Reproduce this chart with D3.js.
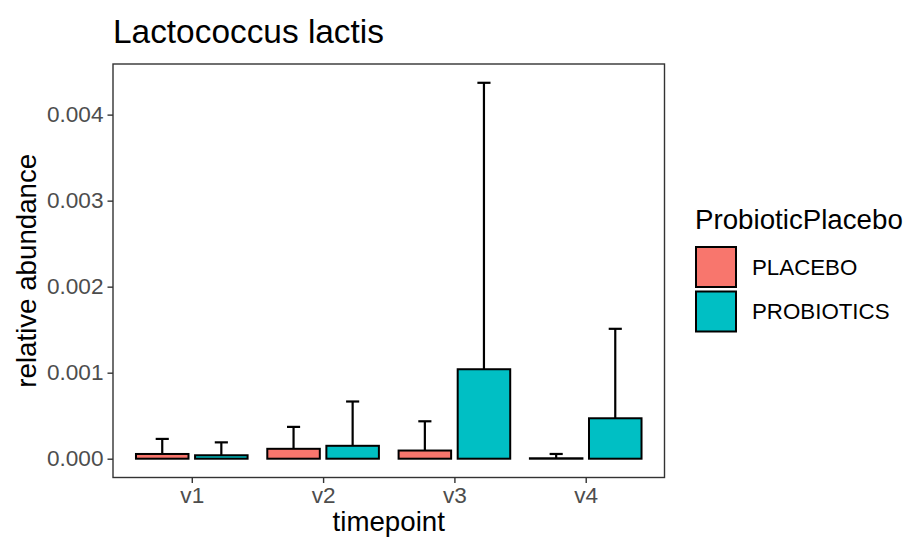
<!DOCTYPE html>
<html>
<head>
<meta charset="utf-8">
<script src="https://cdn.jsdelivr.net/npm/d3@7"></script>
<style>
  html, body { margin: 0; padding: 0; background: #ffffff; }
  svg { display: block; font-family: "Liberation Sans", Arial, sans-serif; }
</style>
</head>
<body>
<svg id="chart" width="907" height="543"></svg>
<script>
// Mean relative abundance of Lactococcus lactis per timepoint and arm,
// with the upper end of each error bar.
const timepoints = ["v1", "v2", "v3", "v4"];
const groups = ["PLACEBO", "PROBIOTICS"];
const groupColors = ["#F8766D", "#00BFC4"];
const placeboMean = [0.000055, 0.000115, 0.000095, 0.000005];
const placeboUpper = [0.00023, 0.00037, 0.000435, 0.000055];
const probioticMean = [0.00004, 0.00015, 0.00104, 0.00047];
const probioticUpper = [0.00019, 0.000665, 0.00437, 0.00151];
const yTicks = [0, 0.001, 0.002, 0.003, 0.004];

const means = [placeboMean, probioticMean];
const uppers = [placeboUpper, probioticUpper];

const rows = [];
timepoints.forEach((t, i) => {
  groups.forEach((g, j) => {
    rows.push({ t, g, j, mean: means[j][i], upper: uppers[j][i] });
  });
});

const svg = d3.select("#chart");
const panel = { left: 113, right: 664.5, top: 64, bottom: 477.5 };

const x = d3.scalePoint().domain(timepoints)
  .range([panel.left, panel.right]).padding(0.6);
const step = x.step();
const dodge = 0.9, barW = 0.4 * step;
const offset = j => (j === 0 ? -1 : 1) * dodge / 4 * step;

const maxY = d3.max(rows, d => d.upper);
const y = d3.scaleLinear()
  .domain([-0.05 * maxY, 1.05 * maxY])
  .range([panel.bottom, panel.top]);

const inkAxis = "#333333";
const tickText = "#4D4D4D";
const titleSize = 27.7, tickSize = 22.6;

// title
svg.append("text")
  .attr("x", panel.left).attr("y", 43)
  .attr("font-size", 33.4).attr("fill", "#000")
  .text("Lactococcus lactis");

// error bars (drawn first, bars sit over their lower end)
const capW = 0.1 * step;
const eb = svg.append("g").attr("stroke", "#000").attr("stroke-width", 2.2);
rows.forEach(d => {
  const cx = x(d.t) + offset(d.j);
  eb.append("line").attr("x1", cx).attr("x2", cx)
    .attr("y1", y(d.mean)).attr("y2", y(d.upper));
  eb.append("line").attr("x1", cx - capW / 2).attr("x2", cx + capW / 2)
    .attr("y1", y(d.upper)).attr("y2", y(d.upper));
});

// bars
svg.append("g").selectAll("rect").data(rows).join("rect")
  .attr("x", d => x(d.t) + offset(d.j) - barW / 2)
  .attr("width", barW)
  .attr("y", d => y(d.mean))
  .attr("height", d => y(0) - y(d.mean))
  .attr("fill", d => groupColors[d.j])
  .attr("stroke", "#000").attr("stroke-width", 2);

// panel border
svg.append("rect")
  .attr("x", panel.left).attr("y", panel.top)
  .attr("width", panel.right - panel.left)
  .attr("height", panel.bottom - panel.top)
  .attr("fill", "none").attr("stroke", inkAxis).attr("stroke-width", 1.4);

// y axis
const yAxis = d3.axisLeft(y).tickValues(yTicks)
  .tickFormat(d3.format(".3f")).tickSize(5.5).tickPadding(4);
const gy = svg.append("g").attr("transform", `translate(${panel.left},0)`).call(yAxis);
gy.select(".domain").remove();
gy.selectAll(".tick line").attr("stroke", inkAxis).attr("stroke-width", 1.4);
gy.selectAll(".tick text").attr("fill", tickText).attr("font-size", tickSize)
  .attr("font-family", "Liberation Sans, Arial, sans-serif");

// x axis
const xAxis = d3.axisBottom(x).tickSize(5.5).tickPadding(4);
const gx = svg.append("g").attr("transform", `translate(0,${panel.bottom})`).call(xAxis);
gx.select(".domain").remove();
gx.selectAll(".tick line").attr("stroke", inkAxis).attr("stroke-width", 1.4);
gx.selectAll(".tick text").attr("fill", tickText).attr("font-size", tickSize)
  .attr("font-family", "Liberation Sans, Arial, sans-serif");

// axis titles
svg.append("text")
  .attr("x", (panel.left + panel.right) / 2).attr("y", 531)
  .attr("text-anchor", "middle").attr("font-size", titleSize)
  .text("timepoint");
svg.append("text")
  .attr("transform", `translate(36,${(panel.top + panel.bottom) / 2}) rotate(-90)`)
  .attr("text-anchor", "middle").attr("font-size", titleSize)
  .text("relative abundance");

// legend
const lg = svg.append("g").attr("transform", "translate(695,0)");
lg.append("text").attr("x", 0).attr("y", 229).attr("font-size", titleSize)
  .text("ProbioticPlacebo");
groups.forEach((g, j) => {
  const top = 247 + j * 44.5;
  lg.append("rect").attr("x", 1).attr("y", top).attr("width", 40).attr("height", 40)
    .attr("fill", groupColors[j]).attr("stroke", "#000").attr("stroke-width", 2);
  lg.append("text").attr("x", 57).attr("y", top + 20).attr("dy", "0.35em")
    .attr("font-size", 22.3).text(g);
});
</script>
</body>
</html>
